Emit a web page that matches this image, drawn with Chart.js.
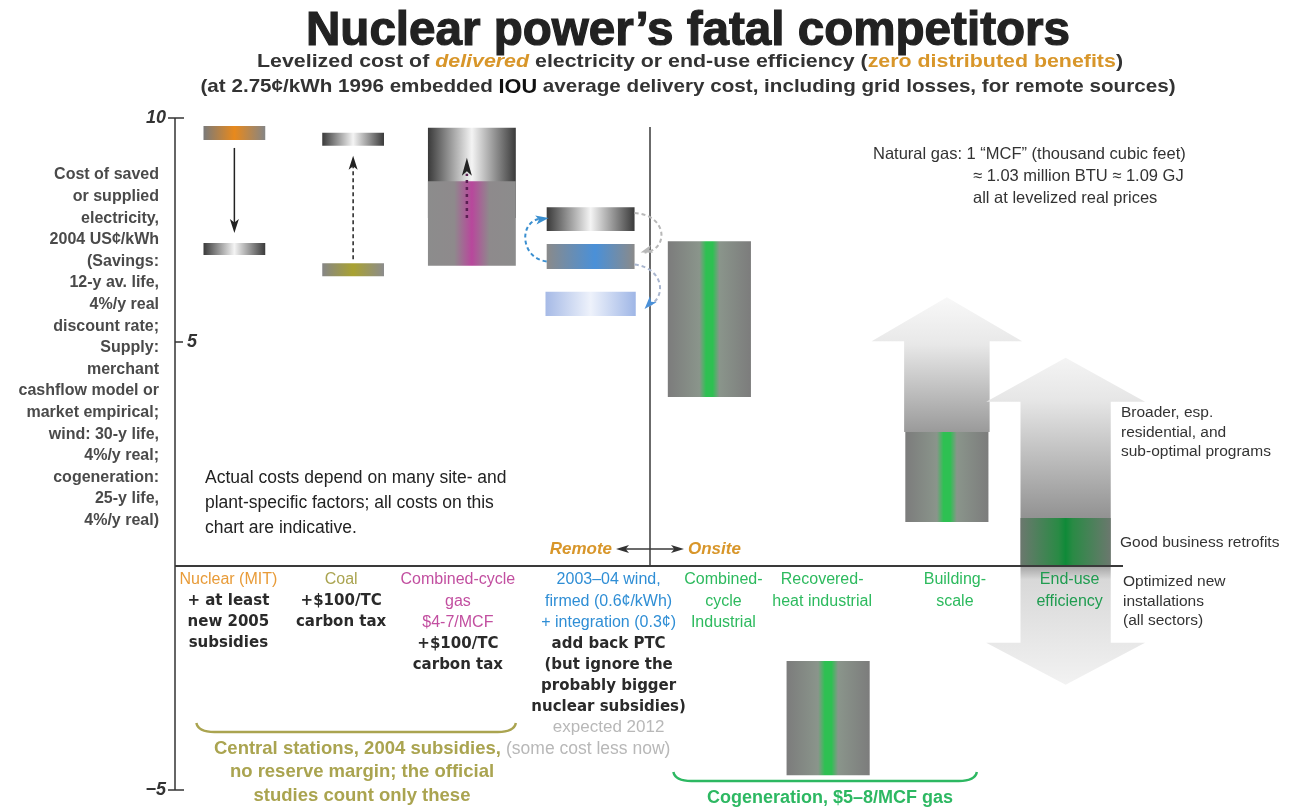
<!DOCTYPE html>
<html>
<head>
<meta charset="utf-8">
<script src="https://cdn.jsdelivr.net/npm/chart.js@4.4.0/dist/chart.umd.min.js"></script>
<style>
  html, body { margin: 0; padding: 0; background: #fff; }
  #wrap { width: 1303px; height: 808px; position: relative; }
</style>
</head>
<body>
<div id="wrap"><canvas id="chart"></canvas></div>
<script>
// categories along the x axis
const categories = ['Nuclear (MIT)', 'Coal', 'Combined-cycle gas', '2003–04 wind', 'Combined-cycle industrial', 'Recovered-heat industrial', 'Building-scale', 'End-use efficiency'];
const categoryLines = [
    ['Nuclear (MIT)'],
    ['Coal'],
    ['Combined-cycle', 'gas', '$4-7/MCF'],
    ['2003–04 wind,', 'firmed (0.6¢/kWh)', '+ integration (0.3¢)'],
    ['Combined-', 'cycle', 'Industrial'],
    ['Recovered-', 'heat industrial'],
    ['Building-', 'scale'],
    ['End-use', 'efficiency']
];
const categoryNotes = [
    ['+ at least', 'new 2005', 'subsidies'],
    ['+$100/TC', 'carbon tax'],
    ['+$100/TC', 'carbon tax'],
    ['add back PTC', '(but ignore the', 'probably bigger', 'nuclear subsidies)'],
    [], [], [], []
];
const yTicks = [10, 5, -5];

// levelized cost, 2004 US¢/kWh, [low, high]
const remoteCost = [[9.51, 9.82], [6.47, 6.76], [6.70, 8.59], [6.63, 7.19], null, null, null, null];
const remoteAdjusted = [[6.94, 7.21], [9.38, 9.67], [7.77, 9.78], [7.48, 8.01], null, null, null, null];
const windExpected2012 = [null, null, null, [5.58, 6.12], null, null, null, null];
const onsiteCost = [null, null, null, null, [3.77, 7.25], [-4.67, -2.12], [0.98, 2.99], [0, 1.07]];
const efficiencyRange = [null, null, null, null, null, null, [2.99, 6.0], [-2.65, 4.65]];

const SANS = '"Liberation Sans", Arial, sans-serif';
const WIDE = '"DejaVu Sans", "Liberation Sans", sans-serif';

const labelColors = ['#e89b38', '#aaa450', '#c24fa0', '#2f8ed5', '#2dba5e', '#2dba5e', '#2dba5e', '#1f9c50'];
const labelShift = [-6, -12, -14, 18, 14, -6, 8, 4];

const stops = {
    metal: [[0, '#3a3a3a'], [0.5, '#f4f4f4'], [1, '#3a3a3a']],
    nuclear: [[0, '#7a7a7a'], [0.5, '#e8891c'], [1, '#858585']],
    coal: [[0, '#868686'], [0.5, '#a9a232'], [1, '#8c8c8c']],
    gas: [[0, '#8c8c8c'], [0.3, '#8e8a8c'], [0.5, '#b8479c'], [0.7, '#8e8a8c'], [1, '#8c8c8c']],
    wind: [[0, '#8a8a8a'], [0.55, '#4a90d8'], [1, '#8a8a8a']],
    windLight: [[0, '#a6bae6'], [0.5, '#eef2fb'], [1, '#9fb6e6']],
    cogen: [[0, '#7c7c7c'], [0.38, '#8a958b'], [0.46, '#2ec052'], [0.54, '#2ec052'], [0.62, '#8a958b'], [1, '#7c7c7c']],
    efficiency: [[0, '#6b786e'], [0.42, '#2a8a45'], [0.5, '#0f8a38'], [0.58, '#2a8a45'], [1, '#6b786e']]
};
const remoteStyle = ['nuclear', 'coal', 'gas', 'wind'];

function hGrad(chart, i, pct, st) {
    const area = chart.chartArea;
    if (!st) st = stops.metal;
    if (!area) return st[0][1];
    const cx = chart.scales.x.getPixelForValue(i);
    const w = (area.right - area.left) / categories.length * pct;
    const g = chart.ctx.createLinearGradient(cx - w / 2, 0, cx + w / 2, 0);
    st.forEach(([o, c]) => g.addColorStop(o, c));
    return g;
}

function pick(arr, idx) {
    return arr.map((v, i) => idx.includes(i) ? v : null);
}

function barSet(label, data, pct, styleFor) {
    return {
        label: label,
        data: data,
        barPercentage: pct,
        categoryPercentage: 1,
        grouped: false,
        borderWidth: 0,
        borderSkipped: false,
        backgroundColor: (c) => hGrad(c.chart, c.dataIndex, pct, stops[styleFor(c.dataIndex)])
    };
}

function head(ctx, x, y, ang, len, wid, color) {
    ctx.save();
    ctx.translate(x, y);
    ctx.rotate(ang);
    ctx.beginPath();
    ctx.moveTo(0, 0);
    ctx.lineTo(-len, -wid / 2);
    ctx.lineTo(-len * 0.75, 0);
    ctx.lineTo(-len, wid / 2);
    ctx.closePath();
    ctx.fillStyle = color;
    ctx.fill();
    ctx.restore();
}

function fitText(ctx, segs, cx, y, width, stroke) {
    let total = 0;
    segs.forEach(s => { ctx.font = s.f; s.w = ctx.measureText(s.t).width; total += s.w; });
    ctx.save();
    ctx.translate(cx - width / 2, y);
    ctx.scale(width / total, 1);
    ctx.textBaseline = 'middle';
    ctx.textAlign = 'left';
    let x = 0;
    segs.forEach(s => {
        ctx.font = s.f;
        ctx.fillStyle = s.c;
        ctx.fillText(s.t, x, 0);
        if (stroke) {
            ctx.strokeStyle = s.c;
            ctx.lineWidth = stroke;
            ctx.strokeText(s.t, x, 0);
        }
        x += s.w;
    });
    ctx.restore();
}

function lines(ctx, arr, x, y0, dy, font, color, align) {
    ctx.font = font;
    ctx.fillStyle = color;
    ctx.textAlign = align;
    ctx.textBaseline = 'middle';
    arr.forEach((s, i) => ctx.fillText(s, x, y0 + i * dy));
}

function brace(ctx, x1, x2, y, color) {
    ctx.save();
    ctx.strokeStyle = color;
    ctx.lineWidth = 2.5;
    ctx.beginPath();
    ctx.moveTo(x1, y - 9);
    ctx.quadraticCurveTo(x1 + 2, y, x1 + 18, y);
    ctx.lineTo(x2 - 18, y);
    ctx.quadraticCurveTo(x2 - 2, y, x2, y - 9);
    ctx.stroke();
    ctx.restore();
}

const decorations = {
    id: 'decorations',
    beforeDatasetsDraw(chart) {
        const {ctx, chartArea: area, scales: {x, y}} = chart;
        const catW = (area.right - area.left) / categories.length;
        // big gray "range" arrows for efficiency
        efficiencyRange.forEach((r, i) => {
            if (!r) return;
            const cx = x.getPixelForValue(i);
            const sw = catW * (i === 7 ? 0.76 : 0.72);
            const hw = sw * 1.76;
            const yTip = y.getPixelForValue(r[1]);
            const yTopBase = yTip + 44;
            const twoWay = r[0] < onsiteCost[i][0];
            const yBotTip = y.getPixelForValue(r[0]);
            const yBotBase = twoWay ? yBotTip - 42 : yBotTip;
            const g = ctx.createLinearGradient(0, yTip, 0, yBotTip);
            if (twoWay) {
                const f = v => (y.getPixelForValue(v) - yTip) / (yBotTip - yTip);
                g.addColorStop(0, '#f4f4f4');
                g.addColorStop(f(3.7), '#e6e6e6');
                g.addColorStop(f(1.1), '#939393');
                g.addColorStop(f(0.05), '#9c9c9c');
                g.addColorStop(f(-0.3), '#d8d8d8');
                g.addColorStop(1, '#f2f2f2');
            } else {
                g.addColorStop(0, '#f8f8f8');
                g.addColorStop(0.35, '#e8e8e8');
                g.addColorStop(1, '#9a9a9a');
            }
            ctx.save();
            ctx.beginPath();
            ctx.moveTo(cx, yTip);
            ctx.lineTo(cx + hw / 2, yTopBase);
            ctx.lineTo(cx + sw / 2, yTopBase);
            ctx.lineTo(cx + sw / 2, yBotBase);
            if (twoWay) {
                ctx.lineTo(cx + hw / 2, yBotBase);
                ctx.lineTo(cx, yBotTip);
                ctx.lineTo(cx - hw / 2, yBotBase);
            }
            ctx.lineTo(cx - sw / 2, yBotBase);
            ctx.lineTo(cx - sw / 2, yTopBase);
            ctx.lineTo(cx - hw / 2, yTopBase);
            ctx.closePath();
            ctx.fillStyle = g;
            ctx.fill();
            ctx.restore();
        });
    },
    afterDatasetsDraw(chart) {
        const {ctx, chartArea: area, scales: {x, y}} = chart;
        const catW = (area.right - area.left) / categories.length;
        const y0 = y.getPixelForValue(0);

        // title block
        fitText(ctx, [{t: 'Nuclear power’s fatal competitors', f: 'bold 48px ' + SANS, c: '#222'}], 688, 32, 764, 1.2);
        fitText(ctx, [
            {t: 'Levelized cost of ', f: 'bold 19px ' + SANS, c: '#333'},
            {t: 'delivered', f: 'italic bold 19px ' + SANS, c: '#d8962a'},
            {t: ' electricity or end-use efficiency (', f: 'bold 19px ' + SANS, c: '#333'},
            {t: 'zero distributed benefits', f: 'bold 19px ' + SANS, c: '#d8962a'},
            {t: ')', f: 'bold 19px ' + SANS, c: '#333'}
        ], 690, 62, 866);
        fitText(ctx, [
            {t: '(at 2.75¢/kWh 1996 embedded ', f: 'bold 19px ' + SANS, c: '#333'},
            {t: 'IOU', f: 'bold 20px ' + SANS, c: '#111'},
            {t: ' average delivery cost, including grid losses, for remote sources)', f: 'bold 19px ' + SANS, c: '#333'}
        ], 688, 87, 975);

        // y axis with ticks
        ctx.save();
        ctx.strokeStyle = '#333';
        ctx.lineWidth = 1.5;
        ctx.beginPath();
        ctx.moveTo(area.left, area.top);
        ctx.lineTo(area.left, area.bottom);
        ctx.stroke();
        yTicks.forEach(v => {
            const py = y.getPixelForValue(v);
            const right = v === 5;
            ctx.beginPath();
            ctx.moveTo(right ? area.left : area.left - 7, py);
            ctx.lineTo(area.left + (right ? 8 : 9), py);
            ctx.stroke();
            ctx.font = 'italic bold 18px ' + SANS;
            ctx.fillStyle = '#333';
            ctx.textBaseline = 'middle';
            ctx.textAlign = right ? 'left' : 'right';
            ctx.fillText(String(v).replace('-', '−'), right ? area.left + 12 : area.left - 9, py);
        });
        ctx.restore();

        lines(ctx, ['Cost of saved', 'or supplied', 'electricity,', '2004 US¢/kWh', '(Savings:', '12-y av. life,',
            '4%/y real', 'discount rate;', 'Supply:', 'merchant', 'cashflow model or', 'market empirical;',
            'wind: 30-y life,', '4%/y real;', 'cogeneration:', '25-y life,', '4%/y real)'],
            area.left - 16, 175, 21.6, 'bold 16px ' + SANS, '#4a4a4a', 'right');

        // zero line and remote / onsite divider
        const xDiv = (x.getPixelForValue(3) + x.getPixelForValue(4)) / 2;
        ctx.save();
        ctx.strokeStyle = '#3a3a3a';
        ctx.lineWidth = 2;
        ctx.beginPath();
        ctx.moveTo(area.left, y0);
        ctx.lineTo(area.right - 2, y0);
        ctx.stroke();
        ctx.lineWidth = 1.5;
        ctx.beginPath();
        ctx.moveTo(xDiv, y.getPixelForValue(9.8));
        ctx.lineTo(xDiv, y0);
        ctx.stroke();
        // remote <-> onsite arrow
        const ya = y0 - 17;
        ctx.lineWidth = 1.5;
        ctx.beginPath();
        ctx.moveTo(xDiv - 30, ya);
        ctx.lineTo(xDiv + 30, ya);
        ctx.stroke();
        head(ctx, xDiv - 34, ya, Math.PI, 13, 8, '#333');
        head(ctx, xDiv + 34, ya, 0, 13, 8, '#333');
        ctx.font = 'italic bold 17px ' + SANS;
        ctx.fillStyle = '#d8962a';
        ctx.textBaseline = 'middle';
        ctx.textAlign = 'right';
        ctx.fillText('Remote', xDiv - 38, ya);
        ctx.textAlign = 'left';
        ctx.fillText('Onsite', xDiv + 38, ya);
        ctx.restore();

        // nuclear: subsidies pull cost down
        ctx.save();
        let cx = x.getPixelForValue(0);
        ctx.strokeStyle = '#222';
        ctx.lineWidth = 1.5;
        ctx.beginPath();
        ctx.moveTo(cx, y.getPixelForValue(remoteCost[0][0]) + 8);
        ctx.lineTo(cx, y.getPixelForValue(remoteAdjusted[0][1]) - 18);
        ctx.stroke();
        head(ctx, cx, y.getPixelForValue(remoteAdjusted[0][1]) - 10, Math.PI / 2, 14, 9, '#222');
        // coal: carbon tax pushes cost up
        cx = x.getPixelForValue(1);
        ctx.setLineDash([4, 3]);
        ctx.beginPath();
        ctx.moveTo(cx, y.getPixelForValue(remoteCost[1][1]) - 4);
        ctx.lineTo(cx, y.getPixelForValue(remoteAdjusted[1][0]) + 20);
        ctx.stroke();
        ctx.setLineDash([]);
        head(ctx, cx, y.getPixelForValue(remoteAdjusted[1][0]) + 10, -Math.PI / 2, 14, 9, '#222');
        // gas: carbon tax pushes cost up
        cx = x.getPixelForValue(2) - 5;
        ctx.strokeStyle = '#5a1f52';
        ctx.lineWidth = 2.5;
        ctx.setLineDash([3, 4]);
        ctx.beginPath();
        ctx.moveTo(cx, y.getPixelForValue(remoteAdjusted[2][0]));
        ctx.lineTo(cx, y.getPixelForValue(remoteAdjusted[2][1]) + 46);
        ctx.stroke();
        ctx.setLineDash([]);
        head(ctx, cx, y.getPixelForValue(remoteAdjusted[2][1]) + 30, -Math.PI / 2, 18, 10, '#222');

        // wind: PTC and 2012 expectation arrows
        cx = x.getPixelForValue(3);
        const ww = catW * 0.74;
        const L = cx - ww / 2, R = cx + ww / 2;
        const yAdj = y.getPixelForValue((remoteAdjusted[3][0] + remoteAdjusted[3][1]) / 2);
        const yBase = y.getPixelForValue((remoteCost[3][0] + remoteCost[3][1]) / 2);
        const y12 = y.getPixelForValue((windExpected2012[3][0] + windExpected2012[3][1]) / 2);
        ctx.lineWidth = 2;
        ctx.setLineDash([4, 3]);
        ctx.strokeStyle = '#3a8fd0';
        ctx.beginPath();
        ctx.moveTo(L, yBase + 5);
        ctx.bezierCurveTo(L - 26, yBase + 2, L - 28, yAdj + 4, L - 8, yAdj);
        ctx.stroke();
        ctx.strokeStyle = '#b8b8b8';
        ctx.beginPath();
        ctx.moveTo(R, yAdj - 6);
        ctx.bezierCurveTo(R + 34, yAdj - 4, R + 34, yBase - 6, R + 10, yBase - 4);
        ctx.stroke();
        ctx.strokeStyle = '#a9b6cf';
        ctx.beginPath();
        ctx.moveTo(R, yBase + 8);
        ctx.bezierCurveTo(R + 30, yBase + 12, R + 32, y12 - 6, R + 14, y12 + 2);
        ctx.stroke();
        ctx.setLineDash([]);
        head(ctx, L + 2, yAdj - 1, -0.15, 13, 9, '#3a8fd0');
        head(ctx, R + 6, yBase - 4, Math.PI - 0.3, 12, 8, '#b8b8b8');
        head(ctx, R + 10, y12 + 5, 2.3, 13, 9, '#4a90d8');
        ctx.restore();

        // category labels under the axis
        categories.forEach((c, i) => {
            const lx = x.getPixelForValue(i) + labelShift[i];
            const ly = y0 + 14;
            lines(ctx, categoryLines[i], lx, ly, 21.5, '16px ' + SANS, labelColors[i], 'center');
            lines(ctx, categoryNotes[i], lx, ly + categoryLines[i].length * 21.5, 20.8, 'bold 15px ' + WIDE, '#2a2a2a', 'center');
        });
        const wx = x.getPixelForValue(3) + labelShift[3];
        lines(ctx, ['expected 2012'], wx, y0 + 14 + 3 * 21.5 + 4 * 20.8, 20, '17px ' + SANS, '#b8b8b8', 'center');

        // braces
        brace(ctx, x.getPixelForValue(0) - 38, x.getPixelForValue(2) + 44, y0 + 166, '#aaa450');
        brace(ctx, x.getPixelForValue(4) - 36, x.getPixelForValue(6) + 30, y0 + 215, '#2db862');
        ctx.save();
        ctx.textBaseline = 'middle';
        ctx.font = 'bold 18.5px ' + SANS;
        ctx.fillStyle = '#aaa450';
        ctx.textAlign = 'left';
        const lead = 'Central stations, 2004 subsidies, ';
        ctx.fillText(lead, 214, y0 + 183);
        const lw = ctx.measureText(lead).width;
        ctx.font = '17.5px ' + SANS;
        ctx.fillStyle = '#b8b8b8';
        ctx.fillText('(some cost less now)', 214 + lw, y0 + 183);
        ctx.restore();
        lines(ctx, ['no reserve margin; the official', 'studies count only these'], 362, y0 + 206, 24, 'bold 18.5px ' + SANS, '#aaa450', 'center');
        lines(ctx, ['Cogeneration, $5–8/MCF gas'], 830, y0 + 232, 20, 'bold 18px ' + SANS, '#2db862', 'center');

        // notes
        lines(ctx, ['Actual costs depend on many site- and', 'plant-specific factors; all costs on this', 'chart are indicative.'],
            205, 478, 25, '17.5px ' + SANS, '#222', 'left');
        lines(ctx, ['Natural gas: 1 “MCF” (thousand cubic feet)'], 873, 154, 22, '16.5px ' + SANS, '#333', 'left');
        lines(ctx, ['≈ 1.03 million BTU ≈ 1.09 GJ', 'all at levelized real prices'], 973, 176, 22, '16.5px ' + SANS, '#333', 'left');
        lines(ctx, ['Broader, esp.', 'residential, and', 'sub-optimal programs'], 1121, 413, 19.5, '15.5px ' + SANS, '#333', 'left');
        lines(ctx, ['Good business retrofits'], 1120, 543, 20, '15.5px ' + SANS, '#333', 'left');
        lines(ctx, ['Optimized new', 'installations', '(all sectors)'], 1123, 582, 19.5, '15.5px ' + SANS, '#333', 'left');
    }
};

const chart = new Chart(document.getElementById('chart').getContext('2d'), {
    type: 'bar',
    data: {
        labels: categories,
        datasets: [
            barSet('Published cost (nuclear, coal)', pick(remoteCost, [0, 1]), 0.52, i => remoteStyle[i]),
            barSet('Published cost (gas, wind)', pick(remoteCost, [2, 3]), 0.74, i => remoteStyle[i]),
            barSet('Wind expected 2012', windExpected2012, 0.76, () => 'windLight'),
            barSet('Cogeneration', pick(onsiteCost, [4, 5, 6]), 0.7, () => 'cogen'),
            barSet('End-use efficiency', pick(onsiteCost, [7]), 0.76, () => 'efficiency'),
            barSet('Adjusted cost (nuclear, coal)', pick(remoteAdjusted, [0, 1]), 0.52, () => 'metal'),
            barSet('Adjusted cost (gas, wind)', pick(remoteAdjusted, [2, 3]), 0.74, () => 'metal')
        ]
    },
    options: {
        responsive: true,
        maintainAspectRatio: false,
        animation: false,
        layout: {
            padding: {left: 175, right: 178, top: 118, bottom: 18}
        },
        plugins: {
            legend: {display: false},
            tooltip: {enabled: false}
        },
        scales: {
            x: {display: false},
            y: {display: false, min: -5, max: 10}
        }
    },
    plugins: [decorations]
});
</script>
</body>
</html>
